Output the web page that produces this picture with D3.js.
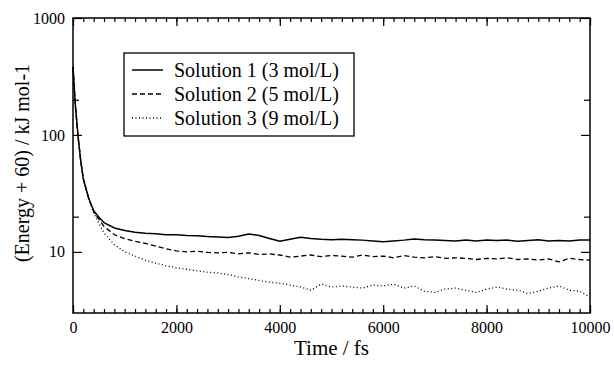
<!DOCTYPE html>
<html>
<head>
<meta charset="utf-8">
<script src="https://cdn.jsdelivr.net/npm/d3@7"></script>
<style>
  body { margin: 0; background: #fff; }
  svg { display: block; font-family: "Liberation Serif", "Times New Roman", serif; }
</style>
</head>
<body>
<div id="chart"></div>
<script>
// time axis (fs) shared by the three runs
const times = [0, 25, 50, 100, 150, 200, 300, 400, 500, 600, 800,
  1000, 1200, 1400, 1600, 1800, 2000, 2200, 2400, 2600, 2800,
  3000, 3200, 3400, 3600, 3800, 4000, 4200, 4400, 4600, 4800,
  5000, 5200, 5400, 5600, 5800, 6000, 6200, 6400, 6600, 6800,
  7000, 7200, 7400, 7600, 7800, 8000, 8200, 8400, 8600, 8800,
  9000, 9200, 9400, 9600, 9800, 10000];

const solution1 = [380, 250, 170, 95, 60, 42, 29, 22.5, 19.8, 17.8, 16.0,
  15.2, 14.7, 14.4, 14.3, 14.0, 14.0, 13.8, 13.7, 13.5, 13.4,
  13.3, 13.6, 14.2, 13.8, 13.0, 12.3, 12.8, 13.3, 13.0, 12.8,
  12.7, 12.8, 12.7, 12.6, 12.4, 12.2, 12.4, 12.6, 12.9, 12.7,
  12.6, 12.5, 12.4, 12.6, 12.4, 12.6, 12.5, 12.6, 12.3, 12.5,
  12.7, 12.4, 12.5, 12.4, 12.6, 12.6];

const solution2 = [380, 250, 170, 95, 60, 42, 29, 22.0, 19.0, 16.5, 14.0,
  13.0, 12.3, 11.8, 11.2, 10.6, 10.2, 10.0, 10.1, 9.9, 9.8,
  9.9, 9.6, 9.8, 9.5, 9.6, 9.4, 9.0, 9.2, 9.4, 9.1,
  9.3, 9.2, 9.0, 9.4, 9.1, 9.2, 8.9, 9.3, 9.0, 8.9,
  9.1, 8.8, 8.9, 8.8, 8.6, 8.8, 8.7, 8.9, 8.6, 8.7,
  8.5, 8.7, 8.2, 8.8, 8.6, 8.5];

const solution3 = [380, 250, 170, 95, 60, 42, 29, 21.5, 17.5, 14.5, 11.5,
  10.0, 9.2, 8.5, 8.0, 7.6, 7.3, 7.1, 6.9, 6.7, 6.6,
  6.4, 6.1, 5.9, 5.7, 5.5, 5.4, 5.2, 5.0, 4.7, 5.3,
  5.0, 5.1, 5.0, 4.9, 5.2, 5.1, 5.3, 4.9, 5.1, 4.6,
  4.5, 4.8, 4.9, 4.7, 4.5, 4.8, 5.0, 4.8, 4.7, 4.4,
  4.6, 4.9, 5.1, 4.7, 4.6, 4.1];

const seriesNames = ["Solution 1 (3 mol/L)", "Solution 2 (5 mol/L)", "Solution 3 (9 mol/L)"];
const seriesValues = [solution1, solution2, solution3];
const dashes = [null, "5,3", "1,2.5"];

const xMajor = [0, 2000, 4000, 6000, 8000, 10000];
const xMinor = d3.range(0, 10001, 200);
const yMajor = [10, 100, 1000];
const yMinor = [20, 200];

const W = 614, H = 365;
const margin = { top: 18, right: 24, bottom: 52, left: 73 };
const width = W - margin.left - margin.right;
const height = H - margin.top - margin.bottom;

const svg = d3.select("#chart").append("svg")
  .attr("width", W)
  .attr("height", H);

const g = svg.append("g")
  .attr("transform", `translate(${margin.left},${margin.top})`);

const x = d3.scaleLinear().domain([0, 10000]).range([0, width]);
const y = d3.scaleLog().domain([3, 1000]).range([height, 0]);

function styleAxis(sel) {
  sel.select(".domain").remove();
  sel.selectAll("line").attr("stroke", "#000").attr("stroke-width", 1.2);
  sel.selectAll("text")
    .attr("fill", "#000")
    .style("font-size", "16px")
    .style("font-family", "'Liberation Serif', serif");
}

// bottom
g.append("g").attr("transform", `translate(0,${height})`)
  .call(d3.axisBottom(x).tickValues(xMinor).tickSize(-4).tickFormat(""))
  .call(styleAxis);
g.append("g").attr("transform", `translate(0,${height})`)
  .call(d3.axisBottom(x).tickValues(xMajor).tickSize(-8).tickPadding(9).tickFormat(d3.format("d")))
  .call(styleAxis);
// top
g.append("g")
  .call(d3.axisTop(x).tickValues(xMinor).tickSize(-4).tickFormat(""))
  .call(styleAxis);
g.append("g")
  .call(d3.axisTop(x).tickValues(xMajor).tickSize(-8).tickFormat(""))
  .call(styleAxis);
// left
g.append("g")
  .call(d3.axisLeft(y).tickValues(yMinor).tickSize(-6).tickFormat(""))
  .call(styleAxis);
g.append("g")
  .call(d3.axisLeft(y).tickValues(yMajor).tickSize(-9).tickPadding(8).tickFormat(d3.format("d")))
  .call(styleAxis);
// right
g.append("g").attr("transform", `translate(${width},0)`)
  .call(d3.axisRight(y).tickValues(yMinor).tickSize(-6).tickFormat(""))
  .call(styleAxis);
g.append("g").attr("transform", `translate(${width},0)`)
  .call(d3.axisRight(y).tickValues(yMajor).tickSize(-9).tickFormat(""))
  .call(styleAxis);

// frame
g.append("rect")
  .attr("width", width)
  .attr("height", height)
  .attr("fill", "none")
  .attr("stroke", "#000")
  .attr("stroke-width", 1.5);

const line = d3.line()
  .x((d, i) => x(times[i]))
  .y(d => y(d));

seriesValues.forEach((vals, k) => {
  g.append("path")
    .datum(vals)
    .attr("d", line)
    .attr("fill", "none")
    .attr("stroke", "#000")
    .attr("stroke-width", k === 0 ? 1.5 : 1.3)
    .attr("stroke-dasharray", dashes[k]);
});

// legend
const legend = svg.append("g");
legend.append("rect")
  .attr("x", 124).attr("y", 53)
  .attr("width", 230).attr("height", 83)
  .attr("fill", "#fff")
  .attr("stroke", "#000")
  .attr("stroke-width", 1.3);

seriesNames.forEach((name, k) => {
  const ly = 70 + k * 24;
  legend.append("line")
    .attr("x1", 132).attr("x2", 163)
    .attr("y1", ly).attr("y2", ly)
    .attr("stroke", "#000")
    .attr("stroke-width", k === 0 ? 1.5 : 1.3)
    .attr("stroke-dasharray", dashes[k]);
  legend.append("text")
    .attr("x", 174).attr("y", ly)
    .attr("dy", "0.35em")
    .style("font-size", "20px")
    .text(name);
});

// axis titles
svg.append("text")
  .attr("x", margin.left + width / 2)
  .attr("y", 355)
  .attr("text-anchor", "middle")
  .style("font-size", "21px")
  .text("Time / fs");

svg.append("text")
  .attr("transform", "translate(29,163) rotate(-90)")
  .attr("text-anchor", "middle")
  .style("font-size", "20px")
  .text("(Energy + 60) / kJ mol-1");
</script>
</body>
</html>
